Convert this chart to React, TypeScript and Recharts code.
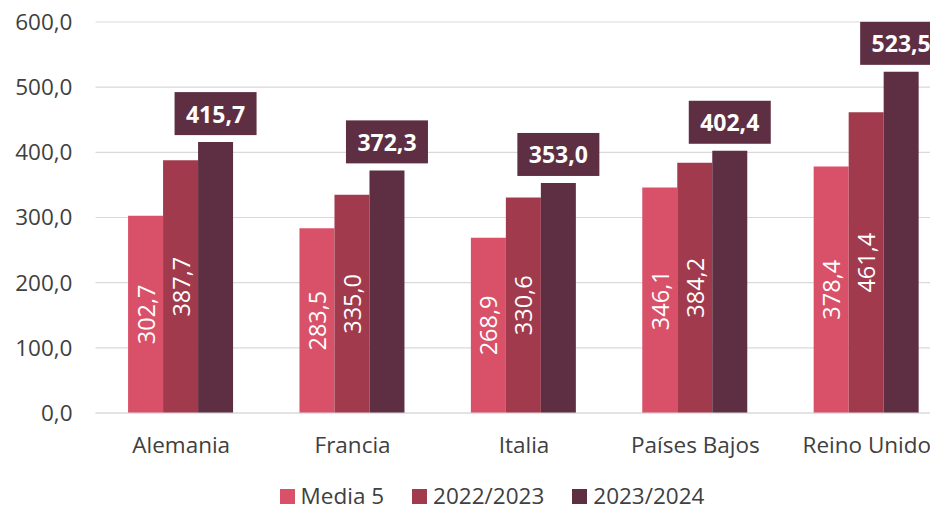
import React from 'react';
import { BarChart, Bar, XAxis, YAxis, CartesianGrid, Legend, LabelList } from 'recharts';

const categories = ['Alemania', 'Francia', 'Italia', 'Países Bajos', 'Reino Unido'];
const media5 = [302.7, 283.5, 268.9, 346.1, 378.4];
const s2022 = [387.7, 335.0, 330.6, 384.2, 461.4];
const s2023 = [415.7, 372.3, 353.0, 402.4, 523.5];
const yTicks = [0, 100, 200, 300, 400, 500, 600];
const seriesNames = ['Media 5', '2022/2023', '2023/2024'];
const colors = ['#D95169', '#A23A4D', '#5E2F42'];

const data = categories.map((c, i) => ({ name: c, m5: media5[i], a: s2022[i], b: s2023[i] }));

const fmt = (v: number) => v.toFixed(1).replace('.', ',');
const FONT = '"Open Sans", sans-serif';

const InsideLabel = (props: any) => {
  const { x, y, width, height, value } = props;
  const cx = x + width / 2;
  const cy = y + height / 2;
  return (
    <text
      x={cx}
      y={cy}
      transform={`rotate(-90, ${cx}, ${cy})`}
      textAnchor="middle"
      dominantBaseline="central"
      fill="#ffffff"
      fontSize={23.5}
      fontFamily={FONT}
    >
      {fmt(value)}
    </text>
  );
};

const TopLabel = (props: any) => {
  const { x, y, width, value } = props;
  const cx = x + width / 2;
  const bw = 82;
  const bh = 43;
  const top = y - 7 - bh;
  return (
    <g>
      <rect x={cx - bw / 2} y={top} width={bw} height={bh} fill="#5E2F42" />
      <text
        x={cx}
        y={top + bh / 2}
        textAnchor="middle"
        dominantBaseline="central"
        fill="#ffffff"
        fontSize={23}
        fontWeight="bold"
        fontFamily={FONT}
      >
        {fmt(value)}
      </text>
    </g>
  );
};

const LegendContent = () => (
  <div
    style={{
      display: 'flex',
      justifyContent: 'center',
      alignItems: 'center',
      height: 22,
      fontFamily: FONT,
      fontSize: 22.5,
      lineHeight: '22px',
      color: '#404040',
    }}
  >
    {seriesNames.map((n, i) => (
      <div key={n} style={{ display: 'flex', alignItems: 'center', height: 22, marginRight: i < 2 ? 28 : 0 }}>
        <div style={{ width: 15, height: 15, background: colors[i], marginRight: 6 }} />
        <div style={{ display: 'inline-block', height: 22, lineHeight: '22px', whiteSpace: 'nowrap' }}>{n}</div>
      </div>
    ))}
  </div>
);

export default function App() {
  return (
    <div style={{ position: 'absolute', left: 0, top: 0, width: 930, height: 507, overflow: 'hidden', background: '#fff' }}>
      <BarChart
        width={960}
        height={507}
        data={data}
        margin={{ top: 22, right: 7.5, bottom: 0, left: 0 }}
        barCategoryGap="19%"
        barGap={0}
      >
        <CartesianGrid vertical={false} stroke="#d9d9d9" strokeWidth={1.2} />
        <XAxis
          dataKey="name"
          height={72}
          tickLine={false}
          axisLine={{ stroke: '#d9d9d9', strokeWidth: 1.2 }}
          tickSize={0}
          tickMargin={24}
          tick={{ fill: '#404040', fontSize: 22.5, fontFamily: FONT }}
          interval={0}
        />
        <YAxis
          width={95.5}
          domain={[0, 600]}
          ticks={yTicks}
          tickFormatter={fmt}
          axisLine={false}
          tickLine={false}
          tickSize={0}
          tickMargin={23}
          tick={{ fill: '#404040', fontSize: 22.5, fontFamily: FONT }}
        />
        <Legend
          verticalAlign="bottom"
          content={<LegendContent />}
          wrapperStyle={{ left: 0, width: 984, bottom: 0 }}
        />
        <Bar dataKey="m5" name={seriesNames[0]} fill={colors[0]} isAnimationActive={false}>
          <LabelList dataKey="m5" content={<InsideLabel />} />
        </Bar>
        <Bar dataKey="a" name={seriesNames[1]} fill={colors[1]} isAnimationActive={false}>
          <LabelList dataKey="a" content={<InsideLabel />} />
        </Bar>
        <Bar dataKey="b" name={seriesNames[2]} fill={colors[2]} isAnimationActive={false}>
          <LabelList dataKey="b" content={<TopLabel />} />
        </Bar>
      </BarChart>
    </div>
  );
}
